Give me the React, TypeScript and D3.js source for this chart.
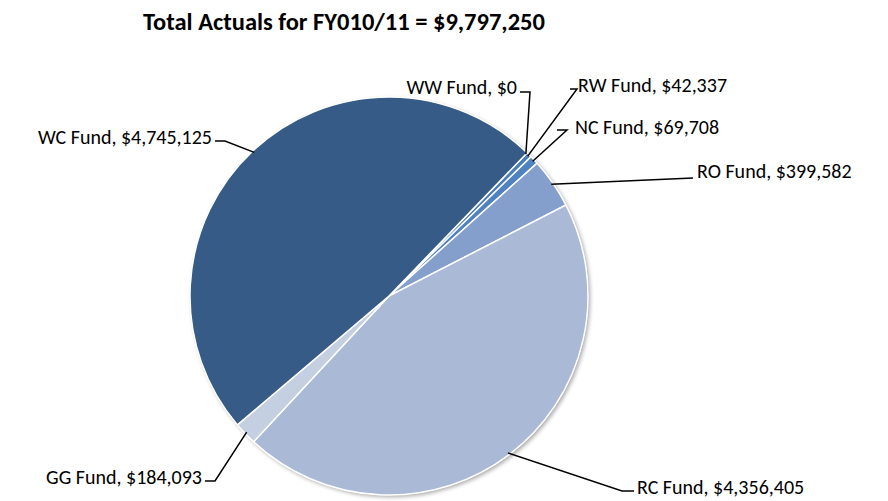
import React from "react";
import * as d3 from "d3";

const funds = ["WW Fund", "RW Fund", "NC Fund", "RO Fund", "RC Fund", "GG Fund", "WC Fund"];
const amounts = [0, 42337, 69708, 399582, 4356405, 184093, 4745125];
const colors = ["#4a7ebb", "#4a7ebb", "#4f82c0", "#849fcc", "#aab9d6", "#c5cfe2", "#365b87"];
const title = "Total Actuals for FY010/11 = $9,797,250";

// label anchor points (text position) and leader bend points
const labelPos: [number, number, "start" | "end"][] = [
  [517, 87, "end"],
  [578, 85, "start"],
  [575, 127, "start"],
  [697, 171, "start"],
  [637, 487, "start"],
  [202, 477, "end"],
  [212, 137, "end"],
];
const bendPos: [number, number][] = [
  [530, 92],
  [577, 89],
  [567, 130],
  [693, 178],
  [622, 491],
  [215, 481],
  [225, 141],
];
const lineStart: [number, number][] = [
  [520, 92],
  [570, 89],
  [557, 130],
  [693, 178],
  [634, 491],
  [205, 481],
  [215, 141],
];

const W = 888, H = 501;
const cx = 389, cy = 296, R = 199;

export default function App() {
  const fmt = d3.format("$,");
  const pie = d3
    .pie<number>()
    .sort(null)
    .value((d) => d)
    .startAngle((44 * Math.PI) / 180)
    .endAngle((44 * Math.PI) / 180 + 2 * Math.PI);
  const arcs = pie(amounts);
  const arcGen = d3.arc<d3.PieArcDatum<number>>().innerRadius(0).outerRadius(R);
  const font = "Carlito, Calibri, Lato, 'Open Sans', sans-serif";

  return (
    <svg width={W} height={H} style={{ position: "absolute", left: 0, top: 0 }}>
      <defs>
        <filter id="sh" x="-10%" y="-10%" width="120%" height="120%">
          <feGaussianBlur in="SourceAlpha" stdDeviation="2" />
          <feOffset dx="1.5" dy="1.5" result="b" />
          <feComponentTransfer>
            <feFuncA type="linear" slope="0.35" />
          </feComponentTransfer>
          <feMerge>
            <feMergeNode />
            <feMergeNode in="SourceGraphic" />
          </feMerge>
        </filter>
      </defs>
      <rect width={W} height={H} fill="#fff" />
      <text x={344} y={30} textAnchor="middle" fontFamily={font} fontWeight="bold" fontSize={24.5} fill="#000">
        {title}
      </text>
      <g transform={`translate(${cx},${cy})`}>
        <circle r={R} fill="#fff" filter="url(#sh)" />
        {arcs.map((a, i) => (
          <path key={i} d={arcGen(a) || ""} fill={colors[i]} stroke="#fff" strokeWidth={1.5} strokeLinejoin="round" />
        ))}
      </g>
      {arcs.map((a, i) => {
        const mid = (a.startAngle + a.endAngle) / 2;
        const ex = cx + Math.sin(mid) * (R - 2);
        const ey = cy - Math.cos(mid) * (R - 2);
        const [bx, by] = bendPos[i];
        const [sx, sy] = lineStart[i];
        return (
          <polyline
            key={"l" + i}
            points={`${sx},${sy} ${bx},${by} ${ex},${ey}`}
            fill="none"
            stroke="#000"
            strokeWidth={1.5}
          />
        );
      })}
      {funds.map((f, i) => {
        const [lx, ly, anchor] = labelPos[i];
        return (
          <text
            key={"t" + i}
            x={lx}
            y={ly}
            textAnchor={anchor}
            dominantBaseline="central"
            fontFamily={font}
            fontSize={20}
            fill="#000"
          >
            {`${f}, ${fmt(amounts[i])}`}
          </text>
        );
      })}
    </svg>
  );
}
